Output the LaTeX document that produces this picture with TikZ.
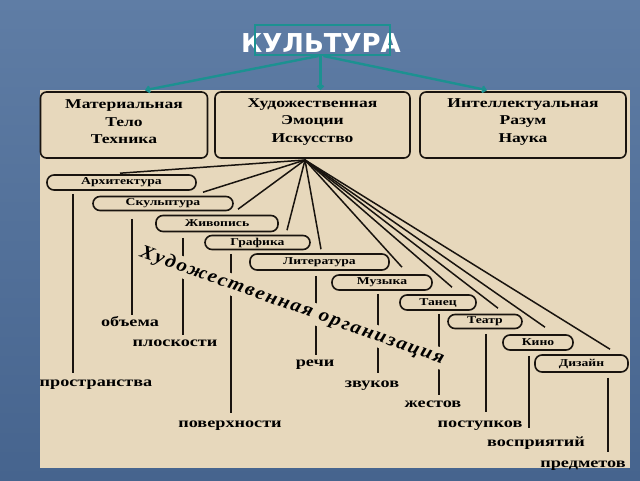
\documentclass[tikz,border=0pt]{standalone}
\usepackage{fontspec}
\setmainfont{Liberation Serif}
\newfontfamily\wideserif{Liberation Serif}[FakeStretch=1.3]
\newfontfamily\titlefont{DejaVu Sans}
\newfontfamily\orgfont{Liberation Serif}[FakeStretch=1.1,LetterSpace=9]
\usetikzlibrary{arrows.meta}
\definecolor{bgtop}{RGB}{95,125,165}
\definecolor{bgbot}{RGB}{70,100,142}
\definecolor{beige}{RGB}{231,216,188}
\definecolor{ink}{RGB}{25,20,15}
\definecolor{tealc}{RGB}{28,145,145}
\tikzset{
  bigbox/.style={draw=ink, line width=1.6pt, rounded corners=6pt, inner sep=0pt},
  boxtext/.style={inner sep=0pt, align=center, font=\wideserif\bfseries\fontsize{13.5}{17.5}\selectfont},
  pill/.style={draw=ink, line width=1.6pt, rounded corners=7pt, inner sep=0pt,
    font=\wideserif\bfseries\fontsize{10.5}{12}\selectfont},
  lab/.style={anchor=base, inner sep=0pt, font=\wideserif\bfseries\fontsize{14}{16}\selectfont},
  fan/.style={draw=ink, line width=1.5pt},
  vline/.style={draw=ink, line width=2.6pt},
  tline/.style={draw=tealc, line width=2.4pt, -{Straight Barb[length=3pt,width=6pt]}}
}
\begin{document}
\begin{tikzpicture}[x=1pt,y=-1pt]
\useasboundingbox (0,0) rectangle (640,480);
\shade[top color=bgtop, bottom color=bgbot] (0,0) rectangle (640,480);
\fill[beige] (40,90) rectangle (630,468);

% title
\node[font=\titlefont\bfseries\fontsize{26}{30}\selectfont, text=white, inner sep=0pt] (title) at (321,43) {КУЛЬТУРА};
\node[draw=tealc, line width=2pt, minimum width=135pt, minimum height=30pt, inner sep=0pt] (hl) at (322.5,40) {};

% three boxes
\node[bigbox, minimum width=167pt, minimum height=66pt] (mat) at (124,125) {};
\node[bigbox, minimum width=195pt, minimum height=66pt] (art) at (312.5,125) {};
\node[bigbox, minimum width=206pt, minimum height=66pt] (int) at (523,125) {};
\node[boxtext] (matT) at ([yshift=3pt]mat.center) {Материальная\\Тело\\Техника};
\node[boxtext] (artT) at ([yshift=3pt]art.center) {Художественная\\Эмоции\\Искусство};
\node[boxtext] (intT) at ([yshift=3pt]int.center) {Интеллектуальная\\Разум\\Наука};

\draw[tline] ([xshift=-4pt]hl.south) -- ([xshift=21pt,yshift=1pt]mat.north);
\draw[tline] ([xshift=-2pt]hl.south) -- ([xshift=-2pt,yshift=1pt]hl.south |- art.north);
\draw[tline] ([xshift=1pt]hl.south) -- ([xshift=-36pt,yshift=1pt]int.north);

% pills
\node[pill, minimum width=149pt, minimum height=15pt] (arh) at (121.5,182.5) {Архитектура};
\node[pill, minimum width=140pt, minimum height=14pt] (sku) at (163,203.5) {Скульптура};
\node[pill, minimum width=122pt, minimum height=16pt] (zhi) at (217,223.5) {Живопись};
\node[pill, minimum width=105pt, minimum height=14pt] (gra) at (257.5,242.5) {Графика};
\node[pill, minimum width=139pt, minimum height=16pt] (lit) at (319.5,262) {Литература};
\node[pill, minimum width=100pt, minimum height=15pt] (muz) at (382,282.5) {Музыка};
\node[pill, minimum width=76pt, minimum height=15pt] (tan) at (438,302.5) {Танец};
\node[pill, minimum width=74pt, minimum height=14pt] (tea) at (485,321.5) {Театр};
\node[pill, minimum width=70pt, minimum height=15pt] (kin) at (538,342.5) {Кино};
\node[pill, minimum width=93pt, minimum height=17pt] (diz) at (581.5,363.5) {Дизайн};

% labels
\node[lab] (l1) at (96,386) {пространства};
\node[lab] (l2) at (130,326) {объема};
\node[lab] (l3) at (175,346) {плоскости};
\node[lab] (l4) at (230,427) {поверхности};
\node[lab] (l5) at (315,366) {речи};
\node[lab] (l6) at (372,387) {звуков};
\node[lab] (l7) at (433,407) {жестов};
\node[lab] (l8) at (480,427) {поступков};
\node[lab] (l9) at (536,446) {восприятий};
\node[lab] (l10) at (583,467) {предметов};

% vertical lines
\draw[vline] ([xshift=-48.5pt,yshift=-3pt]arh.south) -- ([xshift=-23pt,yshift=13pt]l1.base);
\draw[vline] ([xshift=-31pt,yshift=-7.5pt]sku.south) -- ([xshift=2pt,yshift=11pt]l2.base);
\draw[vline] ([xshift=-34pt,yshift=-5.5pt]zhi.south) -- ([xshift=8pt,yshift=11pt]l3.base);
\draw[vline] ([xshift=-26.5pt,yshift=-3.5pt]gra.south) -- ([xshift=1pt,yshift=14pt]l4.base);
\draw[vline] ([xshift=-3.5pt,yshift=-5pt]lit.south) -- ([xshift=1pt,yshift=11pt]l5.base);
\draw[vline] ([xshift=-4pt,yshift=-3pt]muz.south) -- ([xshift=6pt,yshift=14pt]l6.base);
\draw[vline] ([xshift=1pt,yshift=-3pt]tan.south) -- ([xshift=6pt,yshift=12pt]l7.base);
\draw[vline] ([xshift=1pt,yshift=-4.5pt]tea.south) -- ([xshift=6pt,yshift=15pt]l8.base);
\draw[vline] ([xshift=-9pt,yshift=-5pt]kin.south) -- ([xshift=-7pt,yshift=18pt]l9.base);
\draw[vline] ([xshift=26.5pt,yshift=-5pt]diz.south) -- ([xshift=25pt,yshift=15pt]l10.base);

% rotated caption (covers the lines behind it)
\node[rotate=-19.5, fill=beige, inner sep=2pt, font=\orgfont\bfseries\itshape\fontsize{19}{21}\selectfont] (org) at (292,306) {Художественная организация};

% fan
\coordinate (apex) at (305,160);
\draw[fan] (apex) -- ([xshift=-1.5pt,yshift=1pt]arh.north);
\draw[fan] (apex) -- ([xshift=40pt,yshift=3.5pt]sku.north);
\draw[fan] (apex) -- ([xshift=21pt,yshift=5.5pt]zhi.north);
\draw[fan] (apex) -- ([xshift=29.5pt,yshift=4.5pt]gra.north);
\draw[fan] (apex) -- ([xshift=1.5pt,yshift=4pt]lit.north);
\draw[fan] (apex) -- ([xshift=20pt,yshift=7pt]muz.north);
\draw[fan] (apex) -- ([xshift=14pt,yshift=7pt]tan.north);
\draw[fan] (apex) -- ([xshift=13pt,yshift=5.5pt]tea.north);
\draw[fan] (apex) -- ([xshift=7pt,yshift=7pt]kin.north);
\draw[fan] (apex) -- ([xshift=28.5pt,yshift=5pt]diz.north);
\end{tikzpicture}
\end{document}
